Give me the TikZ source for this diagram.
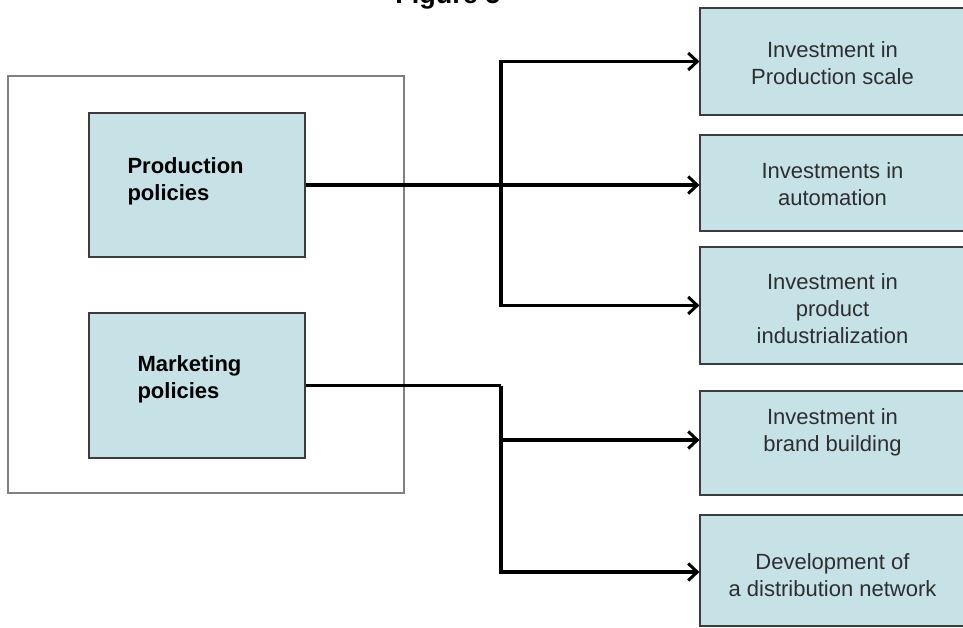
\documentclass[tikz,border=0pt]{standalone}
\usepackage{fontspec}
\setmainfont{Liberation Sans}
\usetikzlibrary{arrows.meta}
\definecolor{boxfill}{HTML}{C6E2E6}
\definecolor{boxline}{HTML}{3C3C3C}
\tikzset{
    policybox/.style={draw=boxline,fill=boxfill,line width=1.2pt,minimum width=216pt,minimum height=#1},
    investbox/.style={draw=boxline,fill=boxfill,line width=1.2pt,minimum width=265pt,minimum height=#1},
    investtext/.style={align=center,text=black!82,font=\fontsize{22}{27}\selectfont},
    policytext/.style={anchor=west,align=left,font=\bfseries\fontsize{22}{27}\selectfont},
    flow/.style={line width=3.2pt}
}
\begin{document}
\begin{tikzpicture}[x=1pt,y=-1pt,>={Straight Barb[length=9pt,width=17pt,line width=3pt]}]
    \useasboundingbox (0,0) rectangle (963,628);
    \node[font=\bfseries\fontsize{27}{30}\selectfont,anchor=base] (title) at (448,4) {Figure 5};
    % frame round the policies
    \draw[gray,line width=1.4pt] (8,76) rectangle (404,493);
    \node[policybox=144pt] (prod) at (197,185) {};
    \node[policytext] (prodtext) at (124,181) {Production\\policies};
    \node[policybox=145pt] (mkt) at (197,385.5) {};
    \node[policytext] (mkttext) at (134,379) {Marketing\\policies};
    % investments
    \node[investbox=107pt] (scale) at (832.5,61.5) {};
    \node[investtext] (scaletext) at (832.5,63.5) {Investment in\\Production scale};
    \node[investbox=96pt] (auto) at (832.5,183) {};
    \node[investtext] (autotext) at (832.5,184.5) {Investments in\\automation};
    \node[investbox=117pt] (indus) at (832.5,305.5) {};
    \node[investtext] (industext) at (832.5,309) {Investment in\\product\\industrialization};
    \node[investbox=104pt] (brand) at (832.5,443) {};
    \node[investtext] (brandtext) at (832.5,432) {Investment in\\brand building};
    \node[investbox=111pt] (distr) at (832.5,570.5) {};
    \node[investtext] (distrtext) at (832.5,575) {Development of\\a distribution network};
    % connectors
    \coordinate (pj) at (501,185);
    \coordinate (mj) at (501,385.5);
    \draw[flow] (prod.east) -- (pj);
    \draw[flow,->] (pj) |- (scale.west);
    \draw[flow,->] (pj) -- (auto.west |- pj);
    \draw[flow,->] (pj) |- (indus.west);
    \draw[flow] (mkt.east) -- (mj);
    \draw[flow,->] (mj) |- ([yshift=3pt]brand.west);
    \draw[flow,->] (mj) |- ([yshift=-1.5pt]distr.west);
\end{tikzpicture}
\end{document}
